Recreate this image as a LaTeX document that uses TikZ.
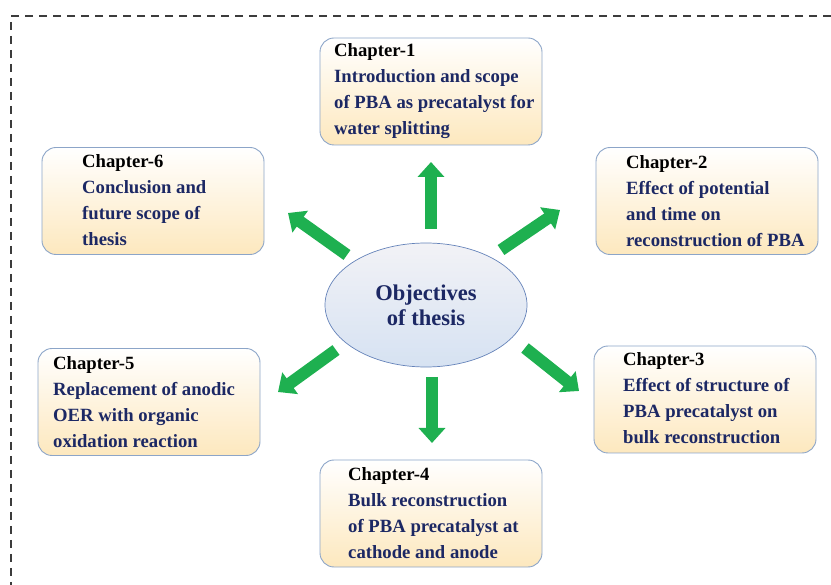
\documentclass[tikz,border=0pt]{standalone}
\usepackage{fontspec}
\setmainfont{Liberation Serif}
\usetikzlibrary{shapes.geometric,arrows.meta}
\definecolor{navy}{RGB}{28,40,100}
\definecolor{agreen}{RGB}{30,176,80}
\definecolor{bordc}{RGB}{140,165,200}
\definecolor{peach}{RGB}{253,232,190}
\definecolor{ellfill}{RGB}{214,226,242}
\definecolor{elltop}{RGB}{242,242,246}
\definecolor{ellbord}{RGB}{100,130,185}
\definecolor{dashc}{RGB}{60,60,60}
\begin{document}
\begin{tikzpicture}[x=1pt,y=-1pt,
 chapbox/.style={draw=bordc, line width=0.9pt, rounded corners=14pt, top color=white, bottom color=peach, minimum width=222pt, minimum height=107pt, inner sep=0pt},
 chaptext/.style={anchor=north west, inner sep=0pt, align=left, text=navy, font=\fontsize{18.7}{26}\selectfont\bfseries},
 bigarrow/.style={draw=agreen, line width=12pt, -{Triangle[width=26pt,length=15pt]}, color=agreen},
 framedash/.style={draw=dashc, line width=1.3pt, dash pattern=on 8pt off 6pt},
]
\useasboundingbox (0,0) rectangle (831,585);
% frame
\coordinate (fa) at (831,16);
\coordinate (fb) at (11,16);
\coordinate (fc) at (11,585);
\draw[framedash] (fa) -- (fb) -- (fc);
% boxes
\node[chapbox] (c1) at (431,91.5) {};
\node[chapbox] (c2) at (707,201) {};
\node[chapbox] (c3) at (705,399.5) {};
\node[chapbox] (c4) at (431,513.5) {};
\node[chapbox] (c5) at (149,402) {};
\node[chapbox] (c6) at (153,201) {};
% texts
\node[chaptext] (t1) at (334,43) {\textcolor{black}{Chapter-1}\\Introduction and scope\\of PBA as precatalyst for\\water splitting};
\node[chaptext] (t2) at (626,155) {\textcolor{black}{Chapter-2}\\Effect of potential\\and time on\\reconstruction of PBA};
\node[chaptext] (t3) at (623,352) {\textcolor{black}{Chapter-3}\\Effect of structure of\\PBA precatalyst on\\bulk reconstruction};
\node[chaptext] (t4) at (348,467) {\textcolor{black}{Chapter-4}\\Bulk reconstruction\\of PBA precatalyst at\\cathode and anode};
\node[chaptext] (t5) at (53,356) {\textcolor{black}{Chapter-5}\\Replacement of anodic\\OER with organic\\oxidation reaction};
\node[chaptext] (t6) at (82,154) {\textcolor{black}{Chapter-6}\\Conclusion and\\future scope of\\thesis};
% ellipse
\node[ellipse, draw=ellbord, line width=0.7pt, top color=elltop, bottom color=ellfill, minimum width=202pt, minimum height=124pt, inner sep=0pt, align=center, text=navy, font=\fontsize{22.5}{25}\selectfont\bfseries] (obj) at (426,305) {Objectives\\of thesis};
% arrows
\coordinate (a1s) at (431,229); \coordinate (a1e) at (431,162);
\coordinate (a2s) at (501,250); \coordinate (a2e) at (560,210);
\coordinate (a3s) at (347,255); \coordinate (a3e) at (288,213);
\coordinate (a4s) at (336,350); \coordinate (a4e) at (278,392);
\coordinate (a5s) at (525,348); \coordinate (a5e) at (579,391);
\coordinate (a6s) at (432,377); \coordinate (a6e) at (432,443);
\draw[bigarrow] (a1s) -- (a1e);
\draw[bigarrow] (a2s) -- (a2e);
\draw[bigarrow] (a3s) -- (a3e);
\draw[bigarrow] (a4s) -- (a4e);
\draw[bigarrow] (a5s) -- (a5e);
\draw[bigarrow] (a6s) -- (a6e);
\end{tikzpicture}
\end{document}
